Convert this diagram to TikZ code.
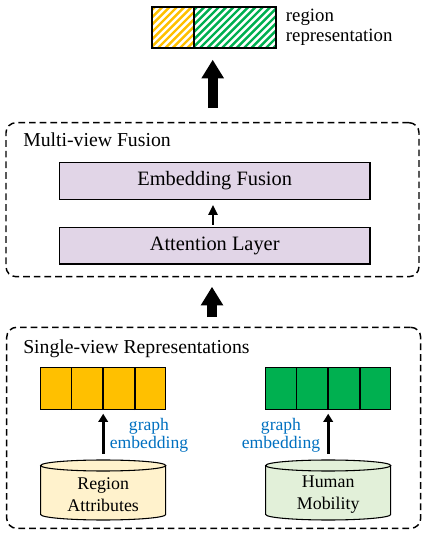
\documentclass[tikz,border=0pt]{standalone}
\usepackage{fontspec}
\setmainfont{Liberation Serif}
\usetikzlibrary{arrows.meta,positioning,calc}
\definecolor{attrfill}{HTML}{FFC000}
\definecolor{mobfill}{HTML}{00B050}
\definecolor{layerfill}{HTML}{E1D5E7}
\definecolor{attrdbfill}{HTML}{FFF2CC}
\definecolor{mobdbfill}{HTML}{E2F0D9}
\definecolor{embblue}{HTML}{0070C0}

\begin{document}
\begin{tikzpicture}[x=0.75pt,y=0.75pt,
    viewbox/.style={draw,dashed,dash pattern=on 5pt off 3pt,line width=1.1pt,rounded corners=7.5pt},
    layerbox/.style={draw,line width=1.1pt,fill=layerfill,minimum width=233pt,minimum height=27.5pt,font=\fontsize{15.3}{18}\selectfont},
    vecbox/.style={draw,line width=1.1pt,minimum width=93.75pt,minimum height=31.5pt},
    hatch/.style={path picture={
        \foreach \k in {0,...,24}
          \draw[#1,line width=1.8pt] ([xshift=\k*5.5pt-45pt]path picture bounding box.south west) -- ++(45:90pt);}},
    bigarrow/.style={-{Triangle[length=14pt,width=16pt]},line width=7.5pt},
    smallarrow/.style={-{Triangle[length=6pt,width=7pt]},line width=2.2pt},
    title/.style={anchor=west,inner sep=0pt,font=\fontsize{14.8}{17}\selectfont},
    embtext/.style={text=embblue,align=center,inner sep=0pt,font=\fontsize{13.2}{13.8}\selectfont},
    dbtext/.style={align=center,inner sep=0pt,font=\fontsize{13.4}{16.5}\selectfont}]
  \useasboundingbox (0,0) rectangle (427,535);

  % region representation
  \node[draw,line width=1.1pt,minimum width=31.5pt,minimum height=30.75pt,hatch=attrfill] (repA) at (173,507.5) {};
  \node[draw,line width=1.1pt,minimum width=61.5pt,minimum height=30.75pt,hatch=mobfill] (repB) at (235,507.5) {};
  \node[anchor=west,inner sep=0pt,align=left,font=\fontsize{14.1}{15}\selectfont] (replabel) at (285.7,508) {region\\representation};

  % multi-view fusion
  \node[viewbox,minimum width=309.75pt,minimum height=115.5pt] (mvbox) at (212.5,335.3) {};
  \node[title] (mvtitle) at (23,395) {Multi-view Fusion};
  \node[layerbox] (fuse) at (214.7,354) {Embedding Fusion};
  \node[layerbox] (attn) at (214.7,289.3) {Attention Layer};
  \draw[-{Triangle[length=7.5pt,width=7pt]},line width=1.6pt,shorten <=1.5pt,shorten >=3.7pt] (attn.north -| 213,0) -- (fuse.south -| 213,0);

  % single-view representations
  \node[viewbox,minimum width=310.5pt,minimum height=150.75pt] (svbox) at (213.7,107.2) {};
  \node[title] (svtitle) at (23,186) {Single-view Representations};
  \node[vecbox,fill=attrfill] (attrvec) at (103.2,146.7) {};
  \node[vecbox,fill=mobfill] (mobvec) at (328.2,146.7) {};
  \foreach \v in {attrvec,mobvec}
    \foreach \f in {0.25,0.5,0.75}
      \draw[line width=1.1pt] ($(\v.south west)!\f!(\v.south east)$) -- ($(\v.north west)!\f!(\v.north east)$);

  % data sources
  \foreach \cx/\col in {103.2/attrdbfill,328.2/mobdbfill}{
    \draw[fill=\col,line width=0.8pt] (\cx-62.5,69.5) -- (\cx-62.5,20.5)
      arc[start angle=180,end angle=360,x radius=62.5,y radius=5.5] -- (\cx+62.5,69.5);
    \draw[fill=\col,line width=0.8pt] (\cx,69.5) ellipse[x radius=62.5,y radius=5.5];
  }
  \coordinate (attrtop) at (103.2,75);
  \coordinate (mobtop) at (328.2,75);
  \node[dbtext] (attrdb) at (103.2,40) {Region\\Attributes};
  \node[dbtext] (mobdb) at (328.2,40) {Human\\Mobility};

  \draw[smallarrow,shorten <=4.5pt,shorten >=2.8pt] (attrtop) -- (attrvec.south);
  \draw[smallarrow,shorten <=4.5pt,shorten >=2.8pt] (mobtop) -- (mobvec.south);
  \node[embtext] (attremb) at (149,100) {graph\\embedding};
  \node[embtext] (mobemb) at (281,100) {graph\\embedding};

  % big arrows
  \draw[bigarrow,shorten <=7pt,shorten >=7pt] (svbox.north -| 212,0) -- (mvbox.south -| 212,0);
  \draw[bigarrow,shorten <=10.3pt,shorten >=8.25pt] (mvbox.north -| 212.7,0) -- (repB.south -| 212.7,0);
\end{tikzpicture}
\end{document}
